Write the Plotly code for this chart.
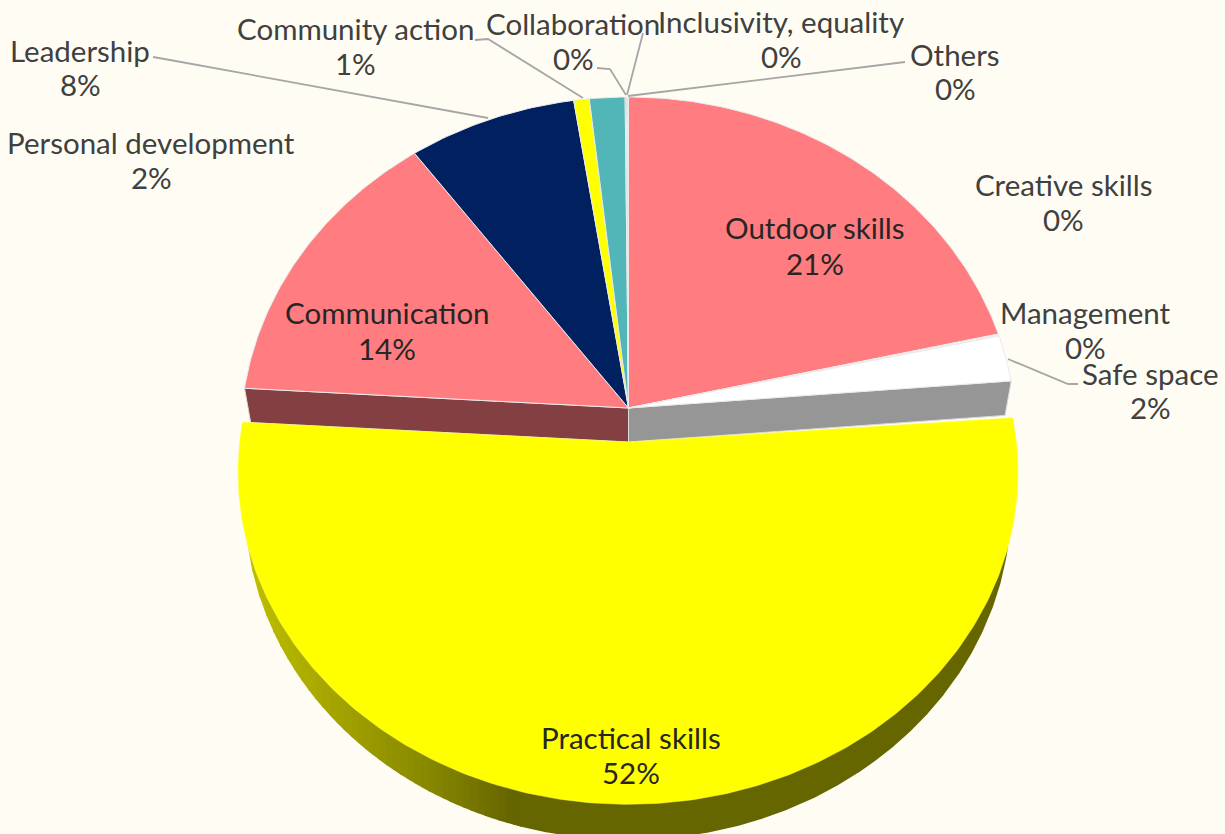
import math
import numpy as np
import plotly.graph_objects as go

# ---- data (clockwise from 12 o'clock) ----
categories = ["Outdoor skills", "Creative skills", "Management", "Safe space", "Practical skills",
              "Communication", "Leadership", "Community action", "Personal development",
              "Collaboration", "Inclusivity, equality", "Others"]
values = [21.4, 0.05, 0.05, 2.2, 52.2, 14.0, 7.6, 0.7, 1.6, 0.05, 0.05, 0.05]
colors = ["#ff7c80", "#ffffff", "#ffffff", "#ffffff", "#ffff00", "#ff7c80", "#002060",
          "#ffff00", "#52b6b8", "#8c9a9c", "#8c9a9c", "#8c9a9c"]
exploded = "Practical skills"

# ---- geometry of the tilted pie, in picture pixels ----
W, H = 1225, 834
DISC = dict(cx=628.5, cy=408, a=386.5, b=336.7, k=0.0826)
PULLED = dict(cx=628, cy=442, a=388.4, b=329.5, k=0.0906)
PULLED_TRIM = (math.radians(0.4), math.radians(-0.1))
WALL_RIM = dict(cx=628, cy=505, rx=383, ry=335)
CUT_DEPTH = (442 - 408, 0.984)
BG = "#fffdf3"
TEXT_OUT = "#404040"
TEXT_IN = "#262626"
LEADER = "#a6a6a6"
FONT = "Lato"
FONT_SIZE = 29.5


def project(theta, p):
    u, v = np.sin(theta), np.cos(theta)
    d = 1 + p["k"] * v
    return p["cx"] + p["a"] * u / d, p["cy"] - p["b"] * v / d


def wedge(t0, t1, p):
    n = max(2, int(abs(t1 - t0) / math.radians(0.75)) + 2)
    ts = np.linspace(t0, t1, n)
    xs, ys = project(ts, p)
    return [p["cx"], *xs, p["cx"]], [p["cy"], *ys, p["cy"]]


total = sum(values)
edges = np.concatenate([[0.0], np.cumsum(values)]) / total * 2 * math.pi
percent = [round(v / total * 100) for v in values]

fig = go.Figure()


def poly(xs, ys, fill, line=None, width=1, hover=None):
    fig.add_trace(go.Scatter(x=list(xs), y=list(ys), mode="lines", fill="toself", fillcolor=fill,
                             line=dict(color=line or fill, width=width), showlegend=False,
                             hoverinfo="text" if hover else "skip", text=hover, hoveron="fills"))


# side wall of the pulled slice, with its shading from left to right
def wall_color(x):
    stops = [(245, (192, 192, 0)), (330, (165, 165, 0)), (430, (135, 135, 0)), (510, (102, 102, 0)), (1100, (102, 102, 0))]
    for (x0, c0), (x1, c1) in zip(stops, stops[1:]):
        if x0 <= x <= x1:
            t = (x - x0) / (x1 - x0)
            return "rgb(%d,%d,%d)" % tuple(round(a + (b - a) * t) for a, b in zip(c0, c1))
    return "rgb(102,102,0)"


w = WALL_RIM
strip_edges = list(np.linspace(w["cx"] - w["rx"], 520, 40)) + [w["cx"] + w["rx"]]
for x0, x1 in zip(strip_edges, strip_edges[1:]):
    x_end = min(x1 + 1.0, w["cx"] + w["rx"])
    xs = np.linspace(x0, x_end, max(3, int(x_end - x0) + 2))
    ys = w["cy"] + w["ry"] * np.sqrt(np.clip(1 - ((xs - w["cx"]) / w["rx"]) ** 2, 0, 1))
    poly([*xs, x_end, x0], [*ys, PULLED["cy"] + 30, PULLED["cy"] + 30], wall_color((x0 + x1) / 2), width=0)

# cut faces left behind by the pulled slice
i_ex = categories.index(exploded)
depth, shrink = CUT_DEPTH
for angle, col in ((edges[i_ex], "#969696"), (edges[i_ex + 1], "#833f42")):
    rx, ry = project(angle, DISC)
    ax, ay = DISC["cx"], DISC["cy"]
    poly([ax, rx, ax + (rx - ax) * shrink, ax, ax],
         [ay, ry, ay + depth + (ry - ay) * shrink, ay + depth, ay], col, "#d9d9d9", 1)

# top faces
order = [i for i in range(len(values)) if i != i_ex] + [i_ex]
for i in order:
    if i == i_ex:
        xs, ys = wedge(edges[i] + PULLED_TRIM[0], edges[i + 1] - PULLED_TRIM[1], PULLED)
        poly(xs, ys, colors[i], "#fbfb60", 0.5, hover=f"{categories[i]}: {percent[i]}%")
    else:
        xs, ys = wedge(edges[i], edges[i + 1], DISC)
        poly(xs, ys, colors[i], "#ebebeb", 1, hover=f"{categories[i]}: {percent[i]}%")

# data labels: (centre x, first line y, second line y, colour)
label_pos = {
    "Leadership": (80, 50, 84, TEXT_OUT),
    "Personal development": (151, 142, 177, TEXT_OUT),
    "Community action": (355, 28, 63, TEXT_OUT),
    "Collaboration": (573, 23, 58, TEXT_OUT),
    "Inclusivity, equality": (781, 21, 56, TEXT_OUT),
    "Others": (955, 54, 88, TEXT_OUT),
    "Creative skills": (1063, 184, 219, TEXT_OUT),
    "Management": (1085, 312, 347, TEXT_OUT),
    "Safe space": (1150, 373, 407, TEXT_OUT),
    "Outdoor skills": (815, 227, 263, TEXT_IN),
    "Communication": (387, 312, 348, TEXT_IN),
    "Practical skills": (631, 737, 772, TEXT_IN),
}
annotations = []
for name, pct in zip(categories, percent):
    x, y1, y2, col = label_pos[name]
    for txt, y in ((name, y1), (f"{pct}%", y2)):
        annotations.append(dict(x=x, y=y, xref="x", yref="y", showarrow=False, xanchor="center", yanchor="middle",
                                text=txt, font=dict(family=FONT, size=FONT_SIZE, color=col)))

# leader lines
leaders = [
    [(153, 57), (170, 60), (488, 118)],
    [(475, 40), (488, 39), (583, 98)],
    [(597, 68), (610, 69), (626, 95)],
    [(643, 33), (627, 95)],
    [(905, 62), (628, 96)],
    [(1078, 384), (1068, 384), (1008, 359)],
]
shapes = []
for pts in leaders:
    path = "M " + " L ".join(f"{x},{y}" for x, y in pts)
    shapes.append(dict(type="path", path=path, xref="x", yref="y", line=dict(color=LEADER, width=1.8), layer="above"))

fig.update_layout(
    width=W, height=H, margin=dict(l=0, r=0, t=0, b=0),
    paper_bgcolor=BG, plot_bgcolor=BG, showlegend=False,
    xaxis=dict(range=[0, W], visible=False, fixedrange=True),
    yaxis=dict(range=[H, 0], visible=False, fixedrange=True),
    annotations=annotations, shapes=shapes,
)
fig.write_html("out.html", config=dict(displayModeBar=False),
               post_script="document.body.style.margin='0';document.body.style.overflow='hidden';document.body.style.background='%s';" % BG)
